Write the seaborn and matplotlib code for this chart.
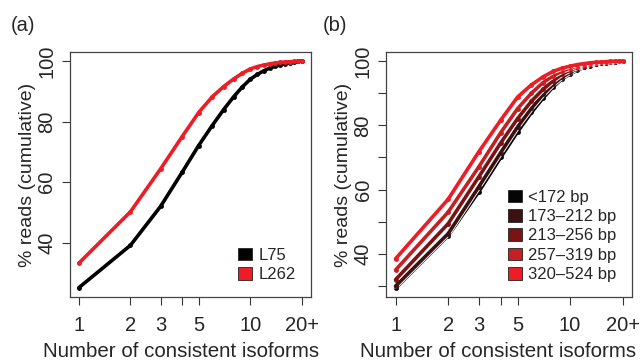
import numpy as np
import pandas as pd
import seaborn as sns
import matplotlib.pyplot as plt
from matplotlib.patches import Patch

# number of consistent isoforms (20 means 20+)
isoforms = list(range(1, 21))

# panel (a): cumulative % reads per library
l75 = [25.1, 39.1, 52.0, 63.2, 72.1, 78.7, 84.0, 88.2, 91.5, 94.0,
       95.6, 96.8, 97.7, 98.3, 98.8, 99.2, 99.5, 99.7, 99.9, 100.0]
l262 = [33.2, 50.2, 64.4, 75.0, 83.0, 88.2, 91.6, 94.1, 96.0, 97.4,
        98.2, 98.7, 99.1, 99.4, 99.6, 99.7, 99.8, 99.9, 99.95, 100.0]
libs = ['L75', 'L262']
lib_colors = ['#000000', '#ee1c24']

# panel (b): cumulative % reads per fragment length bin
bins = ['<172 bp', '173\u2013212 bp', '213\u2013256 bp', '257\u2013319 bp', '320\u2013524 bp']
bin_vals = [
    [29.4, 45.7, 59.4, 70.0, 78.0, 84.0, 88.5, 92.0, 94.5, 96.0,
     97.2, 98.0, 98.6, 99.0, 99.3, 99.5, 99.7, 99.8, 99.9, 100.0],
    [30.0, 46.3, 60.9, 71.5, 79.5, 85.3, 89.6, 92.8, 95.0, 96.5,
     97.6, 98.3, 98.8, 99.2, 99.4, 99.6, 99.75, 99.85, 99.95, 100.0],
    [32.0, 49.4, 64.0, 74.5, 82.1, 87.5, 91.2, 93.9, 95.9, 97.2,
     98.0, 98.6, 99.0, 99.3, 99.5, 99.7, 99.8, 99.9, 99.95, 100.0],
    [35.0, 53.0, 67.1, 77.7, 85.2, 90.0, 93.3, 95.4, 96.9, 97.8,
     98.5, 98.9, 99.2, 99.45, 99.6, 99.75, 99.85, 99.9, 99.97, 100.0],
    [38.5, 57.0, 71.8, 81.6, 88.8, 92.6, 95.1, 96.8, 97.8, 98.4,
     98.9, 99.2, 99.45, 99.6, 99.7, 99.8, 99.9, 99.95, 99.98, 100.0],
]
bin_colors = ['#050505', '#3a1212', '#7a1414', '#c41f22', '#ee1c24']

xticks = [1, 2, 3, 4, 5, 10, 20]
xticklabels = ['1', '2', '3', '', '5', '10', '20+']

sns.set_style('ticks')
plt.rcParams['font.family'] = ['Liberation Sans', 'DejaVu Sans']

df_a = pd.DataFrame({'x': isoforms * 2, 'y': l75 + l262,
                     'lib': ['L75'] * 20 + ['L262'] * 20})
df_b = pd.DataFrame({'x': isoforms * len(bins),
                     'y': sum(bin_vals, []),
                     'bin': sum([[b] * 20 for b in bins], [])})

fig = plt.figure(figsize=(6.42, 3.64), dpi=100)
ax1 = fig.add_axes([0.109, 0.184, 0.375, 0.673])
ax2 = fig.add_axes([0.602, 0.184, 0.382, 0.673])

sns.lineplot(data=df_a, x='x', y='y', hue='lib', palette=lib_colors,
             marker='o', markersize=3.5, markeredgewidth=0, linewidth=2.6,
             legend=False, ax=ax1)

# thin white halo under each curve of panel (b), then the coloured curves
for b, c in zip(bins, bin_colors):
    sub = df_b[df_b['bin'] == b]
    sns.lineplot(data=sub, x='x', y='y', color='white', linewidth=3.9,
                 legend=False, ax=ax2)
    sns.lineplot(data=sub, x='x', y='y', color=c, marker='o', markersize=3.5,
                 markeredgewidth=0, linewidth=2.6, legend=False, ax=ax2)

for ax, ylim, yt, labels, colors, lx in [
        (ax1, (22, 103), [40, 60, 80, 100], libs, lib_colors, 0.46),
        (ax2, (26.6, 102.8), [30, 40, 50, 60, 70, 80, 90, 100], bins, bin_colors, 0.455)]:
    ax.set_xscale('log')
    ax.set_xlim(1 / 20 ** 0.04, 20 * 20 ** 0.04)
    ax.set_ylim(*ylim)
    ax.set_xticks(xticks)
    ax.set_xticklabels(xticklabels)
    ax.minorticks_off()
    ax.set_yticks(yt)
    ax.set_yticklabels([str(v) if v % 20 == 0 else '' for v in yt],
                       rotation=90, va='center')
    ax.tick_params(axis='both', labelsize=14.5, length=6, width=0.8, color='#333333')
    ax.tick_params(axis='x', pad=8)
    ax.tick_params(axis='y', pad=4)
    for s in ax.spines.values():
        s.set_linewidth(0.9)
        s.set_color('#444444')
    ax.set_xlabel('Number of consistent isoforms', fontsize=14.8, labelpad=5)
    ax.xaxis.label.set_x(lx)
    ax.set_ylabel('% reads (cumulative)', fontsize=14, labelpad=1)
    handles = [Patch(facecolor=c, edgecolor='#222222', linewidth=0.6, label=l)
               for l, c in zip(labels, colors)]
    ax.legend(handles=handles, loc='lower right', frameon=False, fontsize=12,
              handlelength=0.8, handleheight=0.8, handletextpad=0.4,
              labelspacing=0.25, borderaxespad=0.5)

fig.text(0.016, 0.915, '(a)', fontsize=14.5)
fig.text(0.503, 0.915, '(b)', fontsize=14.5)

fig.savefig('out.png', dpi=100)
